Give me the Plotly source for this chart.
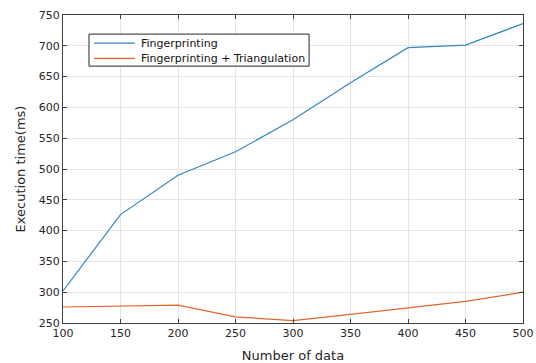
import plotly.graph_objects as go

x_data = [100, 150, 200, 250, 300, 350, 400, 450, 500]
fingerprinting = [302, 426, 490, 528, 580, 640, 697, 701, 736]
fp_triangulation = [276, 278, 279, 260, 254, 264, 275, 285, 300]
x_ticks = [100, 150, 200, 250, 300, 350, 400, 450, 500]
y_ticks = [250, 300, 350, 400, 450, 500, 550, 600, 650, 700, 750]
series_names = ["Fingerprinting", "Fingerprinting + Triangulation"]
series_colors = ["#3388bd", "#e2652d"]

font_family = "DejaVu Sans, Verdana, sans-serif"
axis_color = "#404040"
text_color = "#262626"

fig = go.Figure()
for name, ys, col in zip(series_names, [fingerprinting, fp_triangulation], series_colors):
    fig.add_trace(go.Scatter(x=x_data, y=ys, mode="lines", name=name,
                             line=dict(color=col, width=1.2), showlegend=False))

# Legend box drawn in the MATLAB style (compact rows)
fig.add_shape(type="rect", xref="paper", yref="paper",
              x0=0.0565, x1=0.535, y0=0.834, y1=0.938,
              line=dict(color="#262626", width=1), fillcolor="white", layer="above")
row_y = [0.909, 0.859]
for name, col, yy in zip(series_names, series_colors, row_y):
    fig.add_shape(type="line", xref="paper", yref="paper",
                  x0=0.0674, x1=0.1565, y0=yy, y1=yy,
                  line=dict(color=col, width=1.2), layer="above")
    fig.add_annotation(xref="paper", yref="paper", x=0.165, y=yy,
                       xanchor="left", yanchor="middle", showarrow=False,
                       text=name, font=dict(family=font_family, size=11, color="#111111"))

fig.update_layout(
    width=536, height=363,
    margin=dict(l=63, r=13, t=15, b=40, autoexpand=False),
    paper_bgcolor="white", plot_bgcolor="white",
    font=dict(family=font_family, size=11, color=text_color),
    showlegend=False,
    xaxis=dict(range=[100, 500], tickvals=x_ticks, automargin=False,
               showgrid=True, gridcolor="#e3e3e3", gridwidth=1,
               showline=True, linecolor=axis_color, linewidth=1, mirror="ticks",
               ticks="inside", ticklen=4, tickcolor=axis_color,
               zeroline=False,
               tickfont=dict(size=11, color=text_color),
               title=dict(text="Number of data", font=dict(size=13, color=text_color), standoff=11)),
    yaxis=dict(range=[250, 750], tickvals=y_ticks, automargin=False,
               showgrid=True, gridcolor="#e3e3e3", gridwidth=1,
               showline=True, linecolor=axis_color, linewidth=1, mirror="ticks",
               ticks="inside", ticklen=4, tickcolor=axis_color,
               zeroline=False,
               tickfont=dict(size=11, color=text_color),
               title=dict(text="Execution time(ms)", font=dict(size=13, color=text_color), standoff=10)),
)

fig.write_html("out.html")
